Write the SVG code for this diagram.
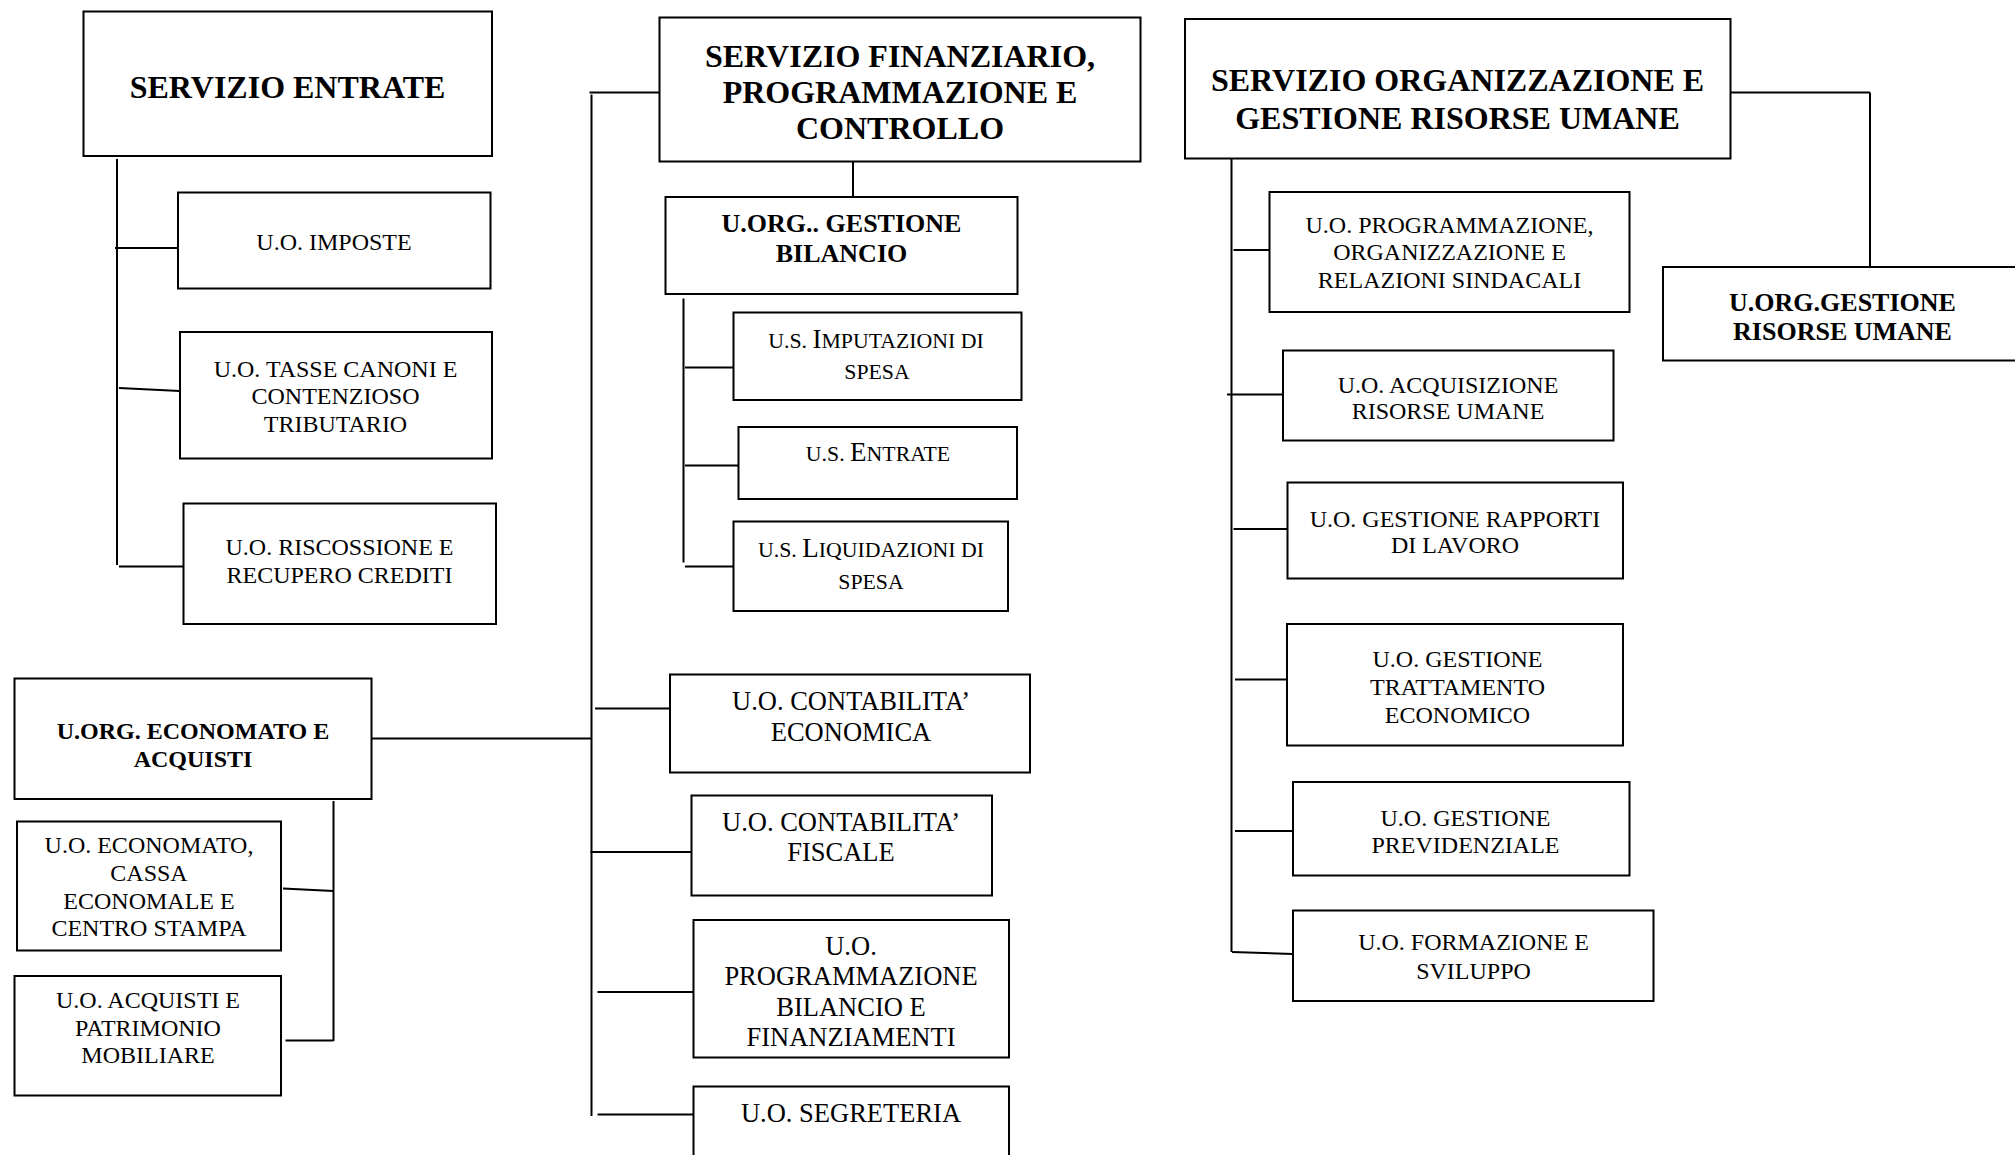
<svg xmlns="http://www.w3.org/2000/svg" width="2015" height="1155" viewBox="0 0 2015 1155">
<style>
rect{fill:#fff;stroke:#000;stroke-width:2}
line{stroke:#000;stroke-width:2}
text{font-family:"Liberation Serif","Times New Roman",serif;fill:#000;text-anchor:middle;font-size:24px}
.t{font-weight:bold;font-size:32px}
.b{font-weight:bold;font-size:26px}
.e{font-weight:bold;font-size:24px}
.l{font-size:26.5px}
.sc{font-size:21.8px}
.big{font-size:27px}
</style>
<rect x="0" y="0" width="2015" height="1155" style="stroke:none"/>
<g id="connectors">
<line x1="117" y1="159" x2="117" y2="565"/>
<line x1="115" y1="248" x2="180" y2="248"/>
<line x1="119" y1="388" x2="180" y2="391"/>
<line x1="119" y1="566.5" x2="183" y2="566.5"/>
<line x1="589.5" y1="92.5" x2="660" y2="92.5"/>
<line x1="591.5" y1="94.5" x2="591.5" y2="1116"/>
<line x1="371.5" y1="738.5" x2="591.5" y2="738.5"/>
<line x1="595" y1="708.5" x2="670" y2="708.5"/>
<line x1="590.5" y1="852" x2="693" y2="852"/>
<line x1="597.5" y1="992" x2="694" y2="992"/>
<line x1="597.5" y1="1114.5" x2="694" y2="1114.5"/>
<line x1="853" y1="161.5" x2="853" y2="197"/>
<line x1="683.5" y1="298.5" x2="683.5" y2="562.5"/>
<line x1="685" y1="367.5" x2="734" y2="367.5"/>
<line x1="685" y1="465.5" x2="741" y2="465.5"/>
<line x1="685" y1="566.5" x2="734" y2="566.5"/>
<line x1="333.5" y1="801" x2="333.5" y2="1041"/>
<line x1="283" y1="888.5" x2="333.5" y2="891"/>
<line x1="285.5" y1="1040.5" x2="333.5" y2="1040.5"/>
<line x1="1231.5" y1="158.5" x2="1231.5" y2="952"/>
<line x1="1233.5" y1="250" x2="1270" y2="250"/>
<line x1="1227" y1="394.5" x2="1283" y2="394.5"/>
<line x1="1233.5" y1="529" x2="1288" y2="529"/>
<line x1="1235" y1="679.5" x2="1287" y2="679.5"/>
<line x1="1235" y1="831" x2="1293" y2="831"/>
<line x1="1232" y1="952" x2="1293" y2="954"/>
<line x1="1728" y1="92.5" x2="1870" y2="92.5"/>
<line x1="1870" y1="92.5" x2="1870" y2="267"/>
</g>
<g id="servizio-entrate">
<rect x="83.5" y="11.5" width="408.5" height="144.5"/>
<text class="t" x="287.5" y="98">SERVIZIO ENTRATE</text>
</g>
<g id="uo-imposte">
<rect x="178" y="192.5" width="312.5" height="96"/>
<text x="334" y="250">U.O. IMPOSTE</text>
</g>
<g id="uo-tasse">
<rect x="180" y="332" width="312" height="126.5"/>
<text x="335.5" y="376.5">U.O. TASSE CANONI E</text>
<text x="335.5" y="404">CONTENZIOSO</text>
<text x="335.5" y="432">TRIBUTARIO</text>
</g>
<g id="uo-riscossione">
<rect x="183.5" y="503.5" width="312.5" height="120.5"/>
<text x="339.5" y="555">U.O. RISCOSSIONE E</text>
<text x="339.5" y="582.5">RECUPERO CREDITI</text>
</g>
<g id="servizio-finanziario">
<rect x="659.5" y="17.5" width="481" height="144"/>
<text class="t" x="900" y="66.5">SERVIZIO FINANZIARIO,</text>
<text class="t" x="900" y="102.5">PROGRAMMAZIONE E</text>
<text class="t" x="900" y="138.5">CONTROLLO</text>
</g>
<g id="uorg-gestione-bilancio">
<rect x="665.5" y="197" width="352" height="97"/>
<text class="b" x="841.5" y="232">U.ORG.. GESTIONE</text>
<text class="b" x="841.5" y="262">BILANCIO</text>
</g>
<g id="us-imputazioni">
<rect x="733.5" y="312.5" width="288" height="87.5"/>
<text class="sc" x="876" y="348">U.S. <tspan class="big">I</tspan>MPUTAZIONI DI</text>
<text class="sc" x="877" y="378.5">SPESA</text>
</g>
<g id="us-entrate">
<rect x="738.5" y="427" width="278.5" height="72"/>
<text class="sc" x="878" y="461">U.S. <tspan class="big">E</tspan>NTRATE</text>
</g>
<g id="us-liquidazioni">
<rect x="733.5" y="521.5" width="274.5" height="89.5"/>
<text class="sc" x="871" y="557">U.S. <tspan class="big">L</tspan>IQUIDAZIONI DI</text>
<text class="sc" x="871" y="588.5">SPESA</text>
</g>
<g id="uo-contabilita-economica">
<rect x="670" y="674.5" width="360" height="98"/>
<text class="l" x="851" y="710">U.O. CONTABILITA’</text>
<text class="l" x="851" y="740.5">ECONOMICA</text>
</g>
<g id="uo-contabilita-fiscale">
<rect x="691.5" y="795.5" width="300.5" height="100"/>
<text class="l" x="841" y="830.5">U.O. CONTABILITA’</text>
<text class="l" x="841" y="861">FISCALE</text>
</g>
<g id="uo-programmazione-bilancio">
<rect x="693.5" y="920" width="315.5" height="137.5"/>
<text class="l" x="851" y="955">U.O.</text>
<text class="l" x="851" y="984.5">PROGRAMMAZIONE</text>
<text class="l" x="851" y="1015.5">BILANCIO E</text>
<text class="l" x="851" y="1046">FINANZIAMENTI</text>
</g>
<g id="uo-segreteria">
<rect x="693.5" y="1086.5" width="315.5" height="90"/>
<text class="l" x="851" y="1121.5">U.O. SEGRETERIA</text>
</g>
<g id="uorg-economato">
<rect x="14.5" y="678.5" width="357" height="120.5"/>
<text class="e" x="193" y="739">U.ORG. ECONOMATO E</text>
<text class="e" x="193" y="766.5">ACQUISTI</text>
</g>
<g id="uo-economato-cassa">
<rect x="17" y="821.5" width="264" height="129"/>
<text x="149" y="853">U.O. ECONOMATO,</text>
<text x="149" y="880.5">CASSA</text>
<text x="149" y="908.5">ECONOMALE E</text>
<text x="149" y="936">CENTRO STAMPA</text>
</g>
<g id="uo-acquisti-patrimonio">
<rect x="14.5" y="976" width="266.5" height="119.5"/>
<text x="148" y="1008">U.O. ACQUISTI E</text>
<text x="148" y="1036">PATRIMONIO</text>
<text x="148" y="1063">MOBILIARE</text>
</g>
<g id="servizio-organizzazione">
<rect x="1185" y="19" width="545.5" height="139.5"/>
<text class="t" x="1457.5" y="90.5">SERVIZIO ORGANIZZAZIONE E</text>
<text class="t" x="1457.5" y="128.5">GESTIONE RISORSE UMANE</text>
</g>
<g id="uorg-gestione-risorse-umane">
<rect x="1663" y="267" width="370" height="93.5"/>
<text class="b" x="1842.5" y="310.5">U.ORG.GESTIONE</text>
<text class="b" x="1842.5" y="340">RISORSE UMANE</text>
</g>
<g id="uo-programmazione-organizzazione">
<rect x="1269.5" y="192" width="360" height="120"/>
<text x="1449.5" y="232.5">U.O. PROGRAMMAZIONE,</text>
<text x="1449.5" y="260">ORGANIZZAZIONE E</text>
<text x="1449.5" y="288">RELAZIONI SINDACALI</text>
</g>
<g id="uo-acquisizione">
<rect x="1283" y="350.5" width="330.5" height="90"/>
<text x="1448" y="392.5">U.O. ACQUISIZIONE</text>
<text x="1448" y="419">RISORSE UMANE</text>
</g>
<g id="uo-rapporti-lavoro">
<rect x="1287.5" y="482.5" width="335.5" height="96"/>
<text x="1455" y="526.5">U.O. GESTIONE RAPPORTI</text>
<text x="1455" y="553">DI LAVORO</text>
</g>
<g id="uo-trattamento-economico">
<rect x="1287" y="624" width="336" height="121.5"/>
<text x="1457.5" y="667">U.O. GESTIONE</text>
<text x="1457.5" y="695">TRATTAMENTO</text>
<text x="1457.5" y="723">ECONOMICO</text>
</g>
<g id="uo-previdenziale">
<rect x="1293" y="782" width="336.5" height="93.5"/>
<text x="1465.5" y="826">U.O. GESTIONE</text>
<text x="1465.5" y="852.5">PREVIDENZIALE</text>
</g>
<g id="uo-formazione">
<rect x="1293" y="910.5" width="360.5" height="90.5"/>
<text x="1473.5" y="950">U.O. FORMAZIONE E</text>
<text x="1473.5" y="979">SVILUPPO</text>
</g>
</svg>
